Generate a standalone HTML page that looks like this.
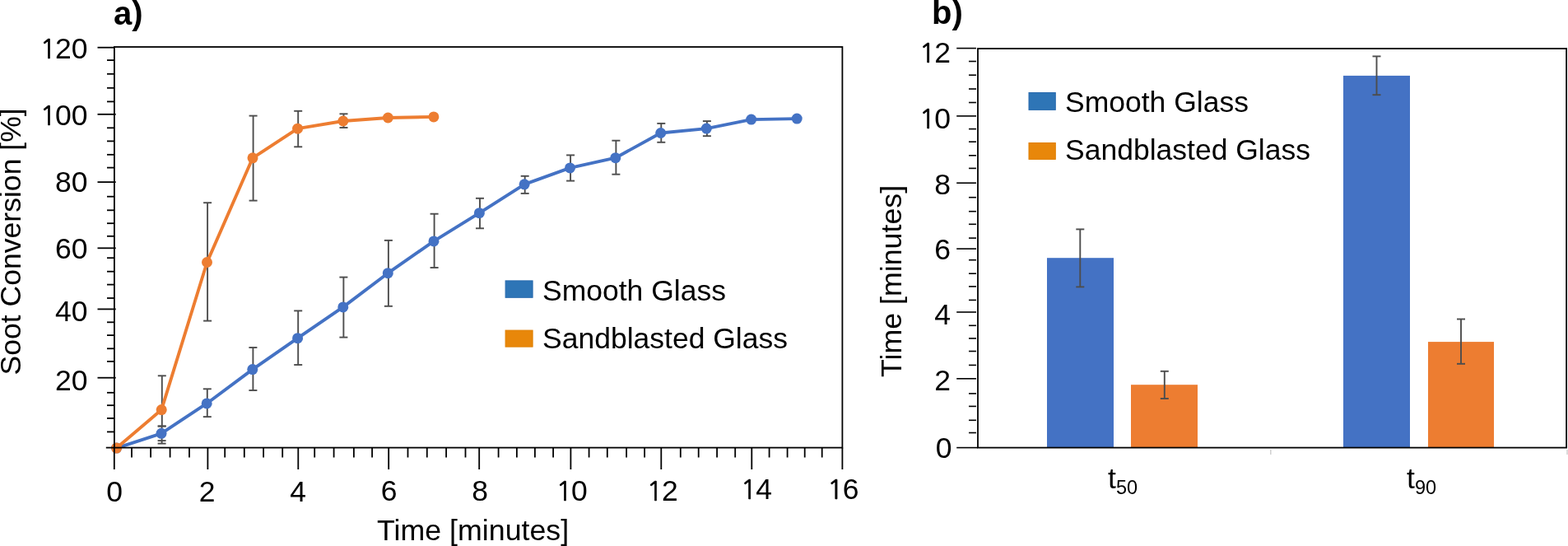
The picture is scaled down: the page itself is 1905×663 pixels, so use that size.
<!DOCTYPE html>
<html><head><meta charset="utf-8"><title>Soot conversion charts</title>
<style>
html,body{margin:0;padding:0;background:#fff;}
body{width:1905px;height:663px;overflow:hidden;}
svg{display:block;}
</style></head>
<body>
<svg width="1905" height="663" viewBox="0 0 1905 663">
<rect width="1905" height="663" fill="#fff"/>
<line x1="196.6" y1="517.5" x2="196.6" y2="538.6" stroke="#4D4D4D" stroke-width="1.9"/>
<line x1="191.6" y1="517.5" x2="201.6" y2="517.5" stroke="#4D4D4D" stroke-width="1.9"/>
<line x1="191.6" y1="538.6" x2="201.6" y2="538.6" stroke="#4D4D4D" stroke-width="1.9"/>
<line x1="251.8" y1="472.3" x2="251.8" y2="506.1" stroke="#4D4D4D" stroke-width="1.9"/>
<line x1="246.8" y1="472.3" x2="256.8" y2="472.3" stroke="#4D4D4D" stroke-width="1.9"/>
<line x1="246.8" y1="506.1" x2="256.8" y2="506.1" stroke="#4D4D4D" stroke-width="1.9"/>
<line x1="307.4" y1="422.0" x2="307.4" y2="474.0" stroke="#4D4D4D" stroke-width="1.9"/>
<line x1="302.4" y1="422.0" x2="312.4" y2="422.0" stroke="#4D4D4D" stroke-width="1.9"/>
<line x1="302.4" y1="474.0" x2="312.4" y2="474.0" stroke="#4D4D4D" stroke-width="1.9"/>
<line x1="362.2" y1="377.4" x2="362.2" y2="443.0" stroke="#4D4D4D" stroke-width="1.9"/>
<line x1="357.2" y1="377.4" x2="367.2" y2="377.4" stroke="#4D4D4D" stroke-width="1.9"/>
<line x1="357.2" y1="443.0" x2="367.2" y2="443.0" stroke="#4D4D4D" stroke-width="1.9"/>
<line x1="417.4" y1="336.6" x2="417.4" y2="409.6" stroke="#4D4D4D" stroke-width="1.9"/>
<line x1="412.4" y1="336.6" x2="422.4" y2="336.6" stroke="#4D4D4D" stroke-width="1.9"/>
<line x1="412.4" y1="409.6" x2="422.4" y2="409.6" stroke="#4D4D4D" stroke-width="1.9"/>
<line x1="471.9" y1="291.9" x2="471.9" y2="371.8" stroke="#4D4D4D" stroke-width="1.9"/>
<line x1="466.9" y1="291.9" x2="476.9" y2="291.9" stroke="#4D4D4D" stroke-width="1.9"/>
<line x1="466.9" y1="371.8" x2="476.9" y2="371.8" stroke="#4D4D4D" stroke-width="1.9"/>
<line x1="527.6" y1="259.7" x2="527.6" y2="325.0" stroke="#4D4D4D" stroke-width="1.9"/>
<line x1="522.6" y1="259.7" x2="532.6" y2="259.7" stroke="#4D4D4D" stroke-width="1.9"/>
<line x1="522.6" y1="325.0" x2="532.6" y2="325.0" stroke="#4D4D4D" stroke-width="1.9"/>
<line x1="583.0" y1="240.8" x2="583.0" y2="277.3" stroke="#4D4D4D" stroke-width="1.9"/>
<line x1="578.0" y1="240.8" x2="588.0" y2="240.8" stroke="#4D4D4D" stroke-width="1.9"/>
<line x1="578.0" y1="277.3" x2="588.0" y2="277.3" stroke="#4D4D4D" stroke-width="1.9"/>
<line x1="637.7" y1="213.8" x2="637.7" y2="234.9" stroke="#4D4D4D" stroke-width="1.9"/>
<line x1="632.7" y1="213.8" x2="642.7" y2="213.8" stroke="#4D4D4D" stroke-width="1.9"/>
<line x1="632.7" y1="234.9" x2="642.7" y2="234.9" stroke="#4D4D4D" stroke-width="1.9"/>
<line x1="693.1" y1="188.4" x2="693.1" y2="219.6" stroke="#4D4D4D" stroke-width="1.9"/>
<line x1="688.1" y1="188.4" x2="698.1" y2="188.4" stroke="#4D4D4D" stroke-width="1.9"/>
<line x1="688.1" y1="219.6" x2="698.1" y2="219.6" stroke="#4D4D4D" stroke-width="1.9"/>
<line x1="748.4" y1="170.7" x2="748.4" y2="211.7" stroke="#4D4D4D" stroke-width="1.9"/>
<line x1="743.4" y1="170.7" x2="753.4" y2="170.7" stroke="#4D4D4D" stroke-width="1.9"/>
<line x1="743.4" y1="211.7" x2="753.4" y2="211.7" stroke="#4D4D4D" stroke-width="1.9"/>
<line x1="803.3" y1="149.9" x2="803.3" y2="172.8" stroke="#4D4D4D" stroke-width="1.9"/>
<line x1="798.3" y1="149.9" x2="808.3" y2="149.9" stroke="#4D4D4D" stroke-width="1.9"/>
<line x1="798.3" y1="172.8" x2="808.3" y2="172.8" stroke="#4D4D4D" stroke-width="1.9"/>
<line x1="858.9" y1="147.1" x2="858.9" y2="165.2" stroke="#4D4D4D" stroke-width="1.9"/>
<line x1="853.9" y1="147.1" x2="863.9" y2="147.1" stroke="#4D4D4D" stroke-width="1.9"/>
<line x1="853.9" y1="165.2" x2="863.9" y2="165.2" stroke="#4D4D4D" stroke-width="1.9"/>
<line x1="191.6" y1="535.1" x2="201.6" y2="535.1" stroke="#4D4D4D" stroke-width="1.9"/>
<polyline points="141.6,544.1 196.0,526.3 251.2,489.9 306.8,448.6 361.6,410.7 416.8,372.9 471.3,331.7 527.0,292.9 582.4,258.7 637.1,223.8 692.5,203.9 747.8,191.7 802.7,161.5 858.3,156.1 912.7,145.1 968.2,144.1" fill="none" stroke="#4472C4" stroke-width="3.9" stroke-linejoin="round"/>
<circle cx="141.6" cy="544.1" r="6.5" fill="#4472C4"/>
<circle cx="196.0" cy="526.3" r="6.5" fill="#4472C4"/>
<circle cx="251.2" cy="489.9" r="6.5" fill="#4472C4"/>
<circle cx="306.8" cy="448.6" r="6.5" fill="#4472C4"/>
<circle cx="361.6" cy="410.7" r="6.5" fill="#4472C4"/>
<circle cx="416.8" cy="372.9" r="6.5" fill="#4472C4"/>
<circle cx="471.3" cy="331.7" r="6.5" fill="#4472C4"/>
<circle cx="527.0" cy="292.9" r="6.5" fill="#4472C4"/>
<circle cx="582.4" cy="258.7" r="6.5" fill="#4472C4"/>
<circle cx="637.1" cy="223.8" r="6.5" fill="#4472C4"/>
<circle cx="692.5" cy="203.9" r="6.5" fill="#4472C4"/>
<circle cx="747.8" cy="191.7" r="6.5" fill="#4472C4"/>
<circle cx="802.7" cy="161.5" r="6.5" fill="#4472C4"/>
<circle cx="858.3" cy="156.1" r="6.5" fill="#4472C4"/>
<circle cx="912.7" cy="145.1" r="6.5" fill="#4472C4"/>
<circle cx="968.2" cy="144.1" r="6.5" fill="#4472C4"/>
<line x1="196.8" y1="456.3" x2="196.8" y2="517.5" stroke="#4D4D4D" stroke-width="1.9"/>
<line x1="191.8" y1="456.3" x2="201.8" y2="456.3" stroke="#4D4D4D" stroke-width="1.9"/>
<line x1="191.8" y1="517.5" x2="201.8" y2="517.5" stroke="#4D4D4D" stroke-width="1.9"/>
<line x1="252.1" y1="246.2" x2="252.1" y2="389.6" stroke="#4D4D4D" stroke-width="1.9"/>
<line x1="247.1" y1="246.2" x2="257.1" y2="246.2" stroke="#4D4D4D" stroke-width="1.9"/>
<line x1="247.1" y1="389.6" x2="257.1" y2="389.6" stroke="#4D4D4D" stroke-width="1.9"/>
<line x1="307.6" y1="140.6" x2="307.6" y2="243.6" stroke="#4D4D4D" stroke-width="1.9"/>
<line x1="302.6" y1="140.6" x2="312.6" y2="140.6" stroke="#4D4D4D" stroke-width="1.9"/>
<line x1="302.6" y1="243.6" x2="312.6" y2="243.6" stroke="#4D4D4D" stroke-width="1.9"/>
<line x1="362.2" y1="134.8" x2="362.2" y2="178.3" stroke="#4D4D4D" stroke-width="1.9"/>
<line x1="357.2" y1="134.8" x2="367.2" y2="134.8" stroke="#4D4D4D" stroke-width="1.9"/>
<line x1="357.2" y1="178.3" x2="367.2" y2="178.3" stroke="#4D4D4D" stroke-width="1.9"/>
<line x1="417.5" y1="138.3" x2="417.5" y2="155.0" stroke="#4D4D4D" stroke-width="1.9"/>
<line x1="412.5" y1="138.3" x2="422.5" y2="138.3" stroke="#4D4D4D" stroke-width="1.9"/>
<line x1="412.5" y1="155.0" x2="422.5" y2="155.0" stroke="#4D4D4D" stroke-width="1.9"/>
<polyline points="141.6,544.1 196.2,497.6 251.5,318.5 307.0,191.8 361.6,156.2 416.9,147.0 471.4,143.0 526.9,141.9" fill="none" stroke="#ED7D31" stroke-width="3.9" stroke-linejoin="round"/>
<circle cx="141.6" cy="544.1" r="6.5" fill="#ED7D31"/>
<circle cx="196.2" cy="497.6" r="6.5" fill="#ED7D31"/>
<circle cx="251.5" cy="318.5" r="6.5" fill="#ED7D31"/>
<circle cx="307.0" cy="191.8" r="6.5" fill="#ED7D31"/>
<circle cx="361.6" cy="156.2" r="6.5" fill="#ED7D31"/>
<circle cx="416.9" cy="147.0" r="6.5" fill="#ED7D31"/>
<circle cx="471.4" cy="143.0" r="6.5" fill="#ED7D31"/>
<circle cx="526.9" cy="141.9" r="6.5" fill="#ED7D31"/>
<rect x="138.9" y="57.0" width="884.5" height="486.6" fill="none" stroke="#000" stroke-width="1.8"/>
<line x1="118.5" y1="57.7" x2="138.9" y2="57.7" stroke="#000" stroke-width="1.8"/>
<line x1="118.5" y1="138.8" x2="140.70000000000002" y2="138.8" stroke="#000" stroke-width="1.8"/>
<line x1="118.5" y1="221.1" x2="140.70000000000002" y2="221.1" stroke="#000" stroke-width="1.8"/>
<line x1="118.5" y1="301.3" x2="140.70000000000002" y2="301.3" stroke="#000" stroke-width="1.8"/>
<line x1="118.5" y1="375.4" x2="140.70000000000002" y2="375.4" stroke="#000" stroke-width="1.8"/>
<line x1="118.5" y1="458.7" x2="140.70000000000002" y2="458.7" stroke="#000" stroke-width="1.8"/>
<line x1="128.8" y1="543.6" x2="138.9" y2="543.6" stroke="#000" stroke-width="1.8"/>
<line x1="130.0" y1="73.1" x2="138.9" y2="73.1" stroke="#000" stroke-width="1.8"/>
<line x1="130.0" y1="89.8" x2="138.9" y2="89.8" stroke="#000" stroke-width="1.8"/>
<line x1="130.0" y1="106.8" x2="138.9" y2="106.8" stroke="#000" stroke-width="1.8"/>
<line x1="130.0" y1="123.4" x2="138.9" y2="123.4" stroke="#000" stroke-width="1.8"/>
<line x1="130.0" y1="155.3" x2="138.9" y2="155.3" stroke="#000" stroke-width="1.8"/>
<line x1="130.0" y1="171.4" x2="138.9" y2="171.4" stroke="#000" stroke-width="1.8"/>
<line x1="130.0" y1="187.8" x2="138.9" y2="187.8" stroke="#000" stroke-width="1.8"/>
<line x1="130.0" y1="203.6" x2="138.9" y2="203.6" stroke="#000" stroke-width="1.8"/>
<line x1="130.0" y1="238.7" x2="138.9" y2="238.7" stroke="#000" stroke-width="1.8"/>
<line x1="130.0" y1="255.3" x2="138.9" y2="255.3" stroke="#000" stroke-width="1.8"/>
<line x1="130.0" y1="271.2" x2="138.9" y2="271.2" stroke="#000" stroke-width="1.8"/>
<line x1="130.0" y1="286.8" x2="138.9" y2="286.8" stroke="#000" stroke-width="1.8"/>
<line x1="130.0" y1="313.2" x2="138.9" y2="313.2" stroke="#000" stroke-width="1.8"/>
<line x1="130.0" y1="329.7" x2="138.9" y2="329.7" stroke="#000" stroke-width="1.8"/>
<line x1="130.0" y1="345.6" x2="138.9" y2="345.6" stroke="#000" stroke-width="1.8"/>
<line x1="130.0" y1="362.0" x2="138.9" y2="362.0" stroke="#000" stroke-width="1.8"/>
<line x1="130.0" y1="391.3" x2="138.9" y2="391.3" stroke="#000" stroke-width="1.8"/>
<line x1="130.0" y1="407.1" x2="138.9" y2="407.1" stroke="#000" stroke-width="1.8"/>
<line x1="130.0" y1="423.3" x2="138.9" y2="423.3" stroke="#000" stroke-width="1.8"/>
<line x1="130.0" y1="438.9" x2="138.9" y2="438.9" stroke="#000" stroke-width="1.8"/>
<line x1="130.0" y1="476.8" x2="138.9" y2="476.8" stroke="#000" stroke-width="1.8"/>
<line x1="130.0" y1="492.2" x2="138.9" y2="492.2" stroke="#000" stroke-width="1.8"/>
<line x1="130.0" y1="507.9" x2="138.9" y2="507.9" stroke="#000" stroke-width="1.8"/>
<line x1="130.0" y1="524.4" x2="138.9" y2="524.4" stroke="#000" stroke-width="1.8"/>
<line x1="138.8" y1="543.6" x2="138.8" y2="570.0" stroke="#000" stroke-width="1.8"/>
<line x1="252.4" y1="543.6" x2="252.4" y2="570.0" stroke="#000" stroke-width="1.8"/>
<line x1="362.3" y1="543.6" x2="362.3" y2="570.0" stroke="#000" stroke-width="1.8"/>
<line x1="472.2" y1="543.6" x2="472.2" y2="570.0" stroke="#000" stroke-width="1.8"/>
<line x1="582.2" y1="543.6" x2="582.2" y2="570.0" stroke="#000" stroke-width="1.8"/>
<line x1="693.4" y1="543.6" x2="693.4" y2="570.0" stroke="#000" stroke-width="1.8"/>
<line x1="803.3" y1="543.6" x2="803.3" y2="570.0" stroke="#000" stroke-width="1.8"/>
<line x1="913.3" y1="543.6" x2="913.3" y2="570.0" stroke="#000" stroke-width="1.8"/>
<line x1="1023.4" y1="543.6" x2="1023.4" y2="570.0" stroke="#000" stroke-width="1.8"/>
<line x1="160.0" y1="543.6" x2="160.0" y2="555.5" stroke="#000" stroke-width="1.8"/>
<line x1="183.1" y1="543.6" x2="183.1" y2="555.5" stroke="#000" stroke-width="1.8"/>
<line x1="206.6" y1="543.6" x2="206.6" y2="555.5" stroke="#000" stroke-width="1.8"/>
<line x1="230.0" y1="543.6" x2="230.0" y2="555.5" stroke="#000" stroke-width="1.8"/>
<line x1="273.2" y1="543.6" x2="273.2" y2="555.5" stroke="#000" stroke-width="1.8"/>
<line x1="296.8" y1="543.6" x2="296.8" y2="555.5" stroke="#000" stroke-width="1.8"/>
<line x1="320.1" y1="543.6" x2="320.1" y2="555.5" stroke="#000" stroke-width="1.8"/>
<line x1="343.2" y1="543.6" x2="343.2" y2="555.5" stroke="#000" stroke-width="1.8"/>
<line x1="382.2" y1="543.6" x2="382.2" y2="555.5" stroke="#000" stroke-width="1.8"/>
<line x1="405.6" y1="543.6" x2="405.6" y2="555.5" stroke="#000" stroke-width="1.8"/>
<line x1="429.9" y1="543.6" x2="429.9" y2="555.5" stroke="#000" stroke-width="1.8"/>
<line x1="452.1" y1="543.6" x2="452.1" y2="555.5" stroke="#000" stroke-width="1.8"/>
<line x1="495.5" y1="543.6" x2="495.5" y2="555.5" stroke="#000" stroke-width="1.8"/>
<line x1="518.8" y1="543.6" x2="518.8" y2="555.5" stroke="#000" stroke-width="1.8"/>
<line x1="542.1" y1="543.6" x2="542.1" y2="555.5" stroke="#000" stroke-width="1.8"/>
<line x1="565.5" y1="543.6" x2="565.5" y2="555.5" stroke="#000" stroke-width="1.8"/>
<line x1="605.6" y1="543.6" x2="605.6" y2="555.5" stroke="#000" stroke-width="1.8"/>
<line x1="627.9" y1="543.6" x2="627.9" y2="555.5" stroke="#000" stroke-width="1.8"/>
<line x1="649.9" y1="543.6" x2="649.9" y2="555.5" stroke="#000" stroke-width="1.8"/>
<line x1="672.1" y1="543.6" x2="672.1" y2="555.5" stroke="#000" stroke-width="1.8"/>
<line x1="715.6" y1="543.6" x2="715.6" y2="555.5" stroke="#000" stroke-width="1.8"/>
<line x1="737.8" y1="543.6" x2="737.8" y2="555.5" stroke="#000" stroke-width="1.8"/>
<line x1="761.1" y1="543.6" x2="761.1" y2="555.5" stroke="#000" stroke-width="1.8"/>
<line x1="783.1" y1="543.6" x2="783.1" y2="555.5" stroke="#000" stroke-width="1.8"/>
<line x1="826.8" y1="543.6" x2="826.8" y2="555.5" stroke="#000" stroke-width="1.8"/>
<line x1="848.7" y1="543.6" x2="848.7" y2="555.5" stroke="#000" stroke-width="1.8"/>
<line x1="871.1" y1="543.6" x2="871.1" y2="555.5" stroke="#000" stroke-width="1.8"/>
<line x1="893.2" y1="543.6" x2="893.2" y2="555.5" stroke="#000" stroke-width="1.8"/>
<line x1="934.6" y1="543.6" x2="934.6" y2="555.5" stroke="#000" stroke-width="1.8"/>
<line x1="956.6" y1="543.6" x2="956.6" y2="555.5" stroke="#000" stroke-width="1.8"/>
<line x1="977.7" y1="543.6" x2="977.7" y2="555.5" stroke="#000" stroke-width="1.8"/>
<line x1="998.7" y1="543.6" x2="998.7" y2="555.5" stroke="#000" stroke-width="1.8"/>
<g style="font-family:'Liberation Sans',Arial,sans-serif" font-size="35.5" fill="#000">
<text x="47.29" y="71.4"><tspan dx="1.14" font-family="NanumGothic" font-size="32.7" stroke="#000" stroke-width="0.6">1</tspan><tspan dx="-1.22">2</tspan>0</text>
<text x="47.29" y="152.1"><tspan dx="1.14" font-family="NanumGothic" font-size="32.7" stroke="#000" stroke-width="0.6">1</tspan><tspan dx="-1.22">0</tspan>0</text>
<text x="67.02" y="233.4">80</text>
<text x="67.02" y="313.8">60</text>
<text x="67.02" y="390.0">40</text>
<text x="67.02" y="473.5">20</text>
<text x="129.23" y="608.7">0</text>
<text x="241.73" y="609.0">2</text>
<text x="352.23" y="608.9">4</text>
<text x="462.83" y="607.8">6</text>
<text x="573.13" y="607.8">8</text>
<text x="674.36" y="607.8"><tspan dx="1.14" font-family="NanumGothic" font-size="32.7" stroke="#000" stroke-width="0.6">1</tspan><tspan dx="-1.22">0</tspan></text>
<text x="784.36" y="608.1"><tspan dx="1.14" font-family="NanumGothic" font-size="32.7" stroke="#000" stroke-width="0.6">1</tspan><tspan dx="-1.22">2</tspan></text>
<text x="898.56" y="606.1"><tspan dx="1.14" font-family="NanumGothic" font-size="32.7" stroke="#000" stroke-width="0.6">1</tspan><tspan dx="-1.22">4</tspan></text>
<text x="1003.96" y="605.8"><tspan dx="1.14" font-family="NanumGothic" font-size="32.7" stroke="#000" stroke-width="0.6">1</tspan><tspan dx="-1.22">6</tspan></text>
<text x="574.6" y="656" text-anchor="middle" font-size="35.75">Time [minutes]</text>
<text transform="translate(25,455.6) rotate(-90)" font-size="35.6">Soot Conversion [%]</text>
<rect x="614.1" y="340.9" width="33" height="20.4" fill="#2E75B6" stroke="#2A6BAE" stroke-width="1"/>
<rect x="614.1" y="401.1" width="33" height="20" fill="#E8870A" stroke="#E07F00" stroke-width="1"/>
<text x="659" y="365.1">Smooth Glass</text>
<text x="659" y="423.3">Sandblasted Glass</text>
</g>
<text x="138" y="30.2" style="font-family:'Liberation Sans',Arial,sans-serif" font-size="40" font-weight="bold">a)</text>
<rect x="1272.0" y="313.2" width="81.0" height="230.40000000000003" fill="#4472C4"/>
<rect x="1374.0" y="467.2" width="81.0" height="76.40000000000003" fill="#ED7D31"/>
<rect x="1632.0" y="91.9" width="81.0" height="451.70000000000005" fill="#4472C4"/>
<rect x="1735.0" y="415.1" width="80.0" height="128.5" fill="#ED7D31"/>
<line x1="1312.3" y1="278.4" x2="1312.3" y2="348.4" stroke="#4D4D4D" stroke-width="1.9"/>
<line x1="1307.3" y1="278.4" x2="1317.3" y2="278.4" stroke="#4D4D4D" stroke-width="1.9"/>
<line x1="1307.3" y1="348.4" x2="1317.3" y2="348.4" stroke="#4D4D4D" stroke-width="1.9"/>
<line x1="1414.8" y1="450.8" x2="1414.8" y2="484.0" stroke="#4D4D4D" stroke-width="1.9"/>
<line x1="1409.8" y1="450.8" x2="1419.8" y2="450.8" stroke="#4D4D4D" stroke-width="1.9"/>
<line x1="1409.8" y1="484.0" x2="1419.8" y2="484.0" stroke="#4D4D4D" stroke-width="1.9"/>
<line x1="1672.5" y1="68.4" x2="1672.5" y2="115.2" stroke="#4D4D4D" stroke-width="1.9"/>
<line x1="1667.5" y1="68.4" x2="1677.5" y2="68.4" stroke="#4D4D4D" stroke-width="1.9"/>
<line x1="1667.5" y1="115.2" x2="1677.5" y2="115.2" stroke="#4D4D4D" stroke-width="1.9"/>
<line x1="1775.0" y1="387.5" x2="1775.0" y2="441.8" stroke="#4D4D4D" stroke-width="1.9"/>
<line x1="1770.0" y1="387.5" x2="1780.0" y2="387.5" stroke="#4D4D4D" stroke-width="1.9"/>
<line x1="1770.0" y1="441.8" x2="1780.0" y2="441.8" stroke="#4D4D4D" stroke-width="1.9"/>
<rect x="1188.0" y="59.0" width="715.0999999999999" height="484.6" fill="none" stroke="#000" stroke-width="1.8"/>
<line x1="1162.2" y1="58.6" x2="1186.0" y2="58.6" stroke="#000" stroke-width="1.6"/>
<line x1="1162.2" y1="140.9" x2="1186.0" y2="140.9" stroke="#000" stroke-width="1.6"/>
<line x1="1162.2" y1="222.2" x2="1186.0" y2="222.2" stroke="#000" stroke-width="1.6"/>
<line x1="1162.2" y1="302.1" x2="1186.0" y2="302.1" stroke="#000" stroke-width="1.6"/>
<line x1="1162.2" y1="379.0" x2="1186.0" y2="379.0" stroke="#000" stroke-width="1.6"/>
<line x1="1162.2" y1="459.8" x2="1186.0" y2="459.8" stroke="#000" stroke-width="1.6"/>
<line x1="1162.2" y1="543.6" x2="1188.0" y2="543.6" stroke="#000" stroke-width="1.6"/>
<line x1="1177.0" y1="74.5" x2="1186.0" y2="74.5" stroke="#000" stroke-width="1.6"/>
<line x1="1177.0" y1="91.2" x2="1186.0" y2="91.2" stroke="#000" stroke-width="1.6"/>
<line x1="1177.0" y1="108.0" x2="1186.0" y2="108.0" stroke="#000" stroke-width="1.6"/>
<line x1="1177.0" y1="124.5" x2="1186.0" y2="124.5" stroke="#000" stroke-width="1.6"/>
<line x1="1177.0" y1="156.6" x2="1186.0" y2="156.6" stroke="#000" stroke-width="1.6"/>
<line x1="1177.0" y1="172.2" x2="1186.0" y2="172.2" stroke="#000" stroke-width="1.6"/>
<line x1="1177.0" y1="188.8" x2="1186.0" y2="188.8" stroke="#000" stroke-width="1.6"/>
<line x1="1177.0" y1="204.4" x2="1186.0" y2="204.4" stroke="#000" stroke-width="1.6"/>
<line x1="1177.0" y1="239.7" x2="1186.0" y2="239.7" stroke="#000" stroke-width="1.6"/>
<line x1="1177.0" y1="256.7" x2="1186.0" y2="256.7" stroke="#000" stroke-width="1.6"/>
<line x1="1177.0" y1="272.3" x2="1186.0" y2="272.3" stroke="#000" stroke-width="1.6"/>
<line x1="1177.0" y1="289.1" x2="1186.0" y2="289.1" stroke="#000" stroke-width="1.6"/>
<line x1="1177.0" y1="315.7" x2="1186.0" y2="315.7" stroke="#000" stroke-width="1.6"/>
<line x1="1177.0" y1="332.2" x2="1186.0" y2="332.2" stroke="#000" stroke-width="1.6"/>
<line x1="1177.0" y1="347.9" x2="1186.0" y2="347.9" stroke="#000" stroke-width="1.6"/>
<line x1="1177.0" y1="364.4" x2="1186.0" y2="364.4" stroke="#000" stroke-width="1.6"/>
<line x1="1177.0" y1="395.3" x2="1186.0" y2="395.3" stroke="#000" stroke-width="1.6"/>
<line x1="1177.0" y1="410.9" x2="1186.0" y2="410.9" stroke="#000" stroke-width="1.6"/>
<line x1="1177.0" y1="426.5" x2="1186.0" y2="426.5" stroke="#000" stroke-width="1.6"/>
<line x1="1177.0" y1="443.4" x2="1186.0" y2="443.4" stroke="#000" stroke-width="1.6"/>
<line x1="1177.0" y1="477.9" x2="1186.0" y2="477.9" stroke="#000" stroke-width="1.6"/>
<line x1="1177.0" y1="493.4" x2="1186.0" y2="493.4" stroke="#000" stroke-width="1.6"/>
<line x1="1177.0" y1="510.3" x2="1186.0" y2="510.3" stroke="#000" stroke-width="1.6"/>
<line x1="1177.0" y1="525.5" x2="1186.0" y2="525.5" stroke="#000" stroke-width="1.6"/>
<line x1="1543.8" y1="546" x2="1543.8" y2="552" stroke="#D0D0D0" stroke-width="1.5"/>
<line x1="1904.0" y1="546" x2="1904.0" y2="552" stroke="#D0D0D0" stroke-width="1.5"/>
<g style="font-family:'Liberation Sans',Arial,sans-serif" font-size="35.5" fill="#000">
<text x="1115.62" y="76.0"><tspan dx="1.14" font-family="NanumGothic" font-size="32.7" stroke="#000" stroke-width="0.6">1</tspan><tspan dx="-1.22">2</tspan></text>
<text x="1115.62" y="156.4"><tspan dx="1.14" font-family="NanumGothic" font-size="32.7" stroke="#000" stroke-width="0.6">1</tspan><tspan dx="-1.22">0</tspan></text>
<text x="1135.36" y="235.6">8</text>
<text x="1135.36" y="314.7">6</text>
<text x="1135.36" y="394.3">4</text>
<text x="1135.36" y="474.3">2</text>
<text x="1136.76" y="555.6">0</text>
<text transform="translate(1094.8,458) rotate(-90)" font-size="35.75">Time [minutes]</text>
<rect x="1250" y="112.5" width="32.3" height="20.9" fill="#2E75B6" stroke="#2A6BAE" stroke-width="1"/>
<rect x="1250" y="173.5" width="32.3" height="19.9" fill="#E8870A" stroke="#E07F00" stroke-width="1"/>
<text x="1294" y="135.6">Smooth Glass</text>
<text x="1294" y="194.2">Sandblasted Glass</text>
<text x="1346.1" y="592.8">t<tspan font-size="23.5" dy="6.8">50</tspan></text>
<text x="1709.1" y="592.8">t<tspan font-size="23.5" dy="6.8">90</tspan></text>
</g>
<text x="1132" y="28.5" style="font-family:'Liberation Sans',Arial,sans-serif" font-size="40" font-weight="bold">b)</text>
</svg>
</body></html>
